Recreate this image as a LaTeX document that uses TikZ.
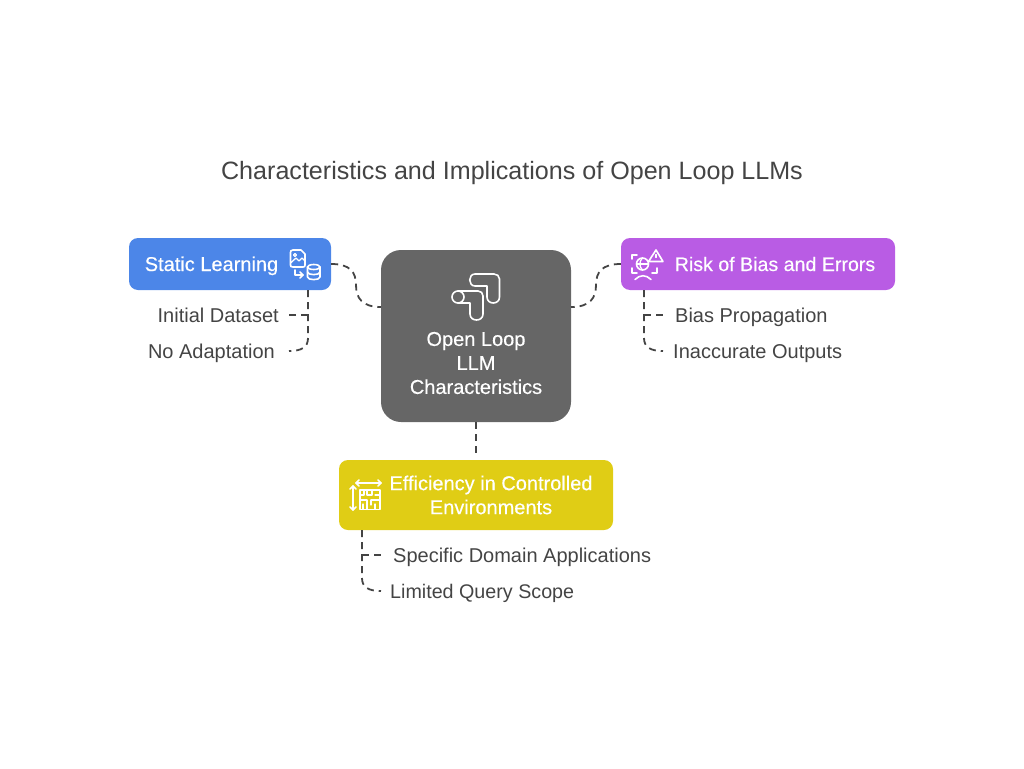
\documentclass[tikz,border=0pt]{standalone}
\usepackage{fontspec}
\setmainfont{Liberation Sans}
\newfontfamily\boxfont[FakeBold=0.35]{Liberation Sans}
\definecolor{inkgrey}{HTML}{444444}
\definecolor{loopgrey}{HTML}{666666}
\definecolor{staticblue}{HTML}{4C86E8}
\definecolor{riskpurple}{HTML}{B95CE4}
\definecolor{effyellow}{HTML}{E0CD15}
\tikzset{
    box/.style={rectangle, rounded corners=9pt, inner sep=0pt},
    boxtext/.style={text=white, font=\boxfont\fontsize{20}{24}\selectfont, align=center, inner sep=0pt},
    oneline/.style={text height=18pt, text depth=4pt},
    leaf/.style={text=inkgrey, font=\fontsize{20}{24}\selectfont, inner sep=0pt, oneline},
    link/.style={draw=inkgrey, line width=1.8pt, dash pattern=on 7pt off 5pt},
    iconline/.style={draw=white, line width=1.6pt, line join=round, line cap=round, fill=none},
    iconthin/.style={iconline, line width=1.3pt},
}
\begin{document}
\begin{tikzpicture}[x=1pt, y=-1pt]
    \useasboundingbox (0, 0) rectangle (1024, 768);

    \node (title) at (512, 170) [text=inkgrey, font=\fontsize{25.1}{28}\selectfont, inner sep=0pt, text height=22pt, text depth=4pt] {Characteristics and Implications of Open Loop LLMs};

    \node (core) at (476, 336) [box, rounded corners=20pt, fill=loopgrey, minimum width=190pt, minimum height=172pt] {};
    \node (static) at (230, 264) [box, fill=staticblue, minimum width=202pt, minimum height=52pt] {};
    \node (risk) at (758, 264) [box, fill=riskpurple, minimum width=274pt, minimum height=52pt] {};
    \node (eff) at (476, 495) [box, fill=effyellow, minimum width=274pt, minimum height=70pt] {};

    \node (coretext) at (476, 363) [boxtext] {Open Loop\\LLM\\Characteristics};
    \node (statictext) at (211.5, 264) [boxtext, oneline] {Static Learning};
    \node (risktext) at (775, 264) [boxtext, oneline, font=\boxfont\fontsize{19.6}{24}\selectfont] {Risk of Bias and Errors};
    \node (efftext) at (491, 495) [boxtext] {Efficiency in Controlled\\Environments};

    \node (dataset) at (279, 315) [leaf, anchor=east] {Initial Dataset};
    \node (adapt) at (275, 351) [leaf, anchor=east] {No Adaptation};
    \node (bias) at (675, 315) [leaf, anchor=west] {Bias Propagation};
    \node (outputs) at (673, 351) [leaf, anchor=west] {Inaccurate Outputs};
    \node (domain) at (393, 555) [leaf, anchor=west] {Specific Domain Applications};
    \node (scope) at (390, 591) [leaf, anchor=west, font=\fontsize{19.7}{24}\selectfont] {Limited Query Scope};

    \coordinate (coreleft) at (381, 307);
    \coordinate (coreright) at (571, 307);
    \coordinate (statictrunk) at (308, 290);
    \coordinate (risktrunk) at (644, 290);
    \coordinate (efftrunk) at (362, 530);
    \coordinate (dataend) at (289, 315);
    \coordinate (adaptend) at (289, 351);
    \coordinate (biasend) at (663, 315);
    \coordinate (outend) at (663, 351);
    \coordinate (domainend) at (381, 555);
    \coordinate (scopeend) at (381, 591);

    \draw [link] (static.east) .. controls (350, 264) and (356, 272) .. (356, 285) .. controls (356, 298) and (362, 307) .. (coreleft);
    \draw [link] (risk.west) .. controls (602, 264) and (596, 272) .. (596, 285) .. controls (596, 298) and (590, 307) .. (coreright);
    \draw [link, shorten >=6pt] (core.south) -- (eff.north);

    \draw [link] (statictrunk) -- (308, 338) .. controls (308, 347) and (302, 351) .. (adaptend);
    \draw [link] (308, 315) -- (dataend);
    \draw [link] (risktrunk) -- (644, 338) .. controls (644, 347) and (650, 351) .. (outend);
    \draw [link] (644, 315) -- (biasend);
    \draw [link] (efftrunk) -- (362, 578) .. controls (362, 587) and (368, 591) .. (scopeend);
    \draw [link] (362, 555) -- (domainend);

    \draw [iconline] (475, 274) -- (494, 274) .. controls (497, 274) and (499.5, 276) .. (499.5, 279) -- (499.5, 297) .. controls (499.5, 305) and (487, 305) .. (487, 297) -- (487, 286) -- (475, 286) .. controls (468, 286) and (468, 274) .. (475, 274);
    \draw [iconline] (458, 291) -- (478, 291) .. controls (481, 291) and (483, 293) .. (483, 296) -- (483, 314) .. controls (483, 322) and (470, 322) .. (470, 314) -- (470, 303) -- (458, 303);
    \draw [iconline] (458, 297) circle (6);

    \draw [iconline] (301, 250) -- (293, 250) .. controls (291, 250) and (290.5, 251) .. (290.5, 252.5) -- (290.5, 265) .. controls (290.5, 266.5) and (291, 267) .. (293, 267) -- (303, 267) .. controls (304.5, 267) and (305, 266.5) .. (305, 265) -- (305, 254) -- cycle;
    \draw [iconthin] (290.5, 263) -- (296, 258) -- (299, 261) -- (302, 258) -- (305, 261);
    \draw [iconthin] (295, 255) circle (1.5);
    \draw [iconline] (295, 270) -- (295, 275) -- (303, 275);
    \draw [iconline] (300, 272) -- (303, 275) -- (300, 278);
    \draw [iconline] (307.5, 267) -- (307.5, 277) .. controls (307.5, 280.5) and (320, 280.5) .. (320, 277) -- (320, 267);
    \draw [iconline] (313.75, 267) ellipse (6.25 and 2.5);
    \draw [iconline] (307.5, 272) .. controls (307.5, 275.5) and (320, 275.5) .. (320, 272);

    \draw [iconline] (632, 259) -- (632, 255) -- (637, 255);
    \draw [iconline] (632, 268) -- (632, 273) -- (637, 273);
    \draw [iconline] (657, 268) -- (657, 273) -- (652, 273);
    \draw [iconline] (642.5, 264) circle (6);
    \draw [iconthin] (636.5, 264) -- (648.5, 264);
    \draw [iconthin] (642.5, 258) .. controls (639, 261) and (639, 267) .. (642.5, 270);
    \draw [iconline] (656, 250) -- (663, 261.5) -- (648.5, 261.5) -- cycle;
    \draw [iconthin] (656, 254.5) -- (656, 257.5);
    \draw [iconline] (635, 279.5) .. controls (640, 274.5) and (646, 274.5) .. (651, 279.5);

    \draw [iconline] (356, 483) -- (381, 483);
    \draw [iconline] (359, 480) -- (356, 483) -- (359, 486);
    \draw [iconline] (378, 480) -- (381, 483) -- (378, 486);
    \draw [iconline] (353, 486) -- (353, 510);
    \draw [iconline] (350, 489) -- (353, 486) -- (356, 489);
    \draw [iconline] (350, 507) -- (353, 510) -- (356, 507);
    \draw [iconline] (360, 490) rectangle (380, 509.5);
    \draw [iconthin] (360, 495) -- (364, 495) -- (364, 490);
    \draw [iconthin] (367, 490) rectangle (372, 495);
    \draw [iconthin] (375, 495) -- (380, 495);
    \draw [iconthin] (360, 500) -- (367, 500) -- (367, 509.5);
    \draw [iconthin] (371, 500) -- (380, 500);
    \draw [iconthin] (363, 504) -- (363, 509.5);
    \draw [iconthin] (371, 500) -- (371, 505);
    \draw [iconthin] (375, 504) -- (375, 509.5);
\end{tikzpicture}
\end{document}
